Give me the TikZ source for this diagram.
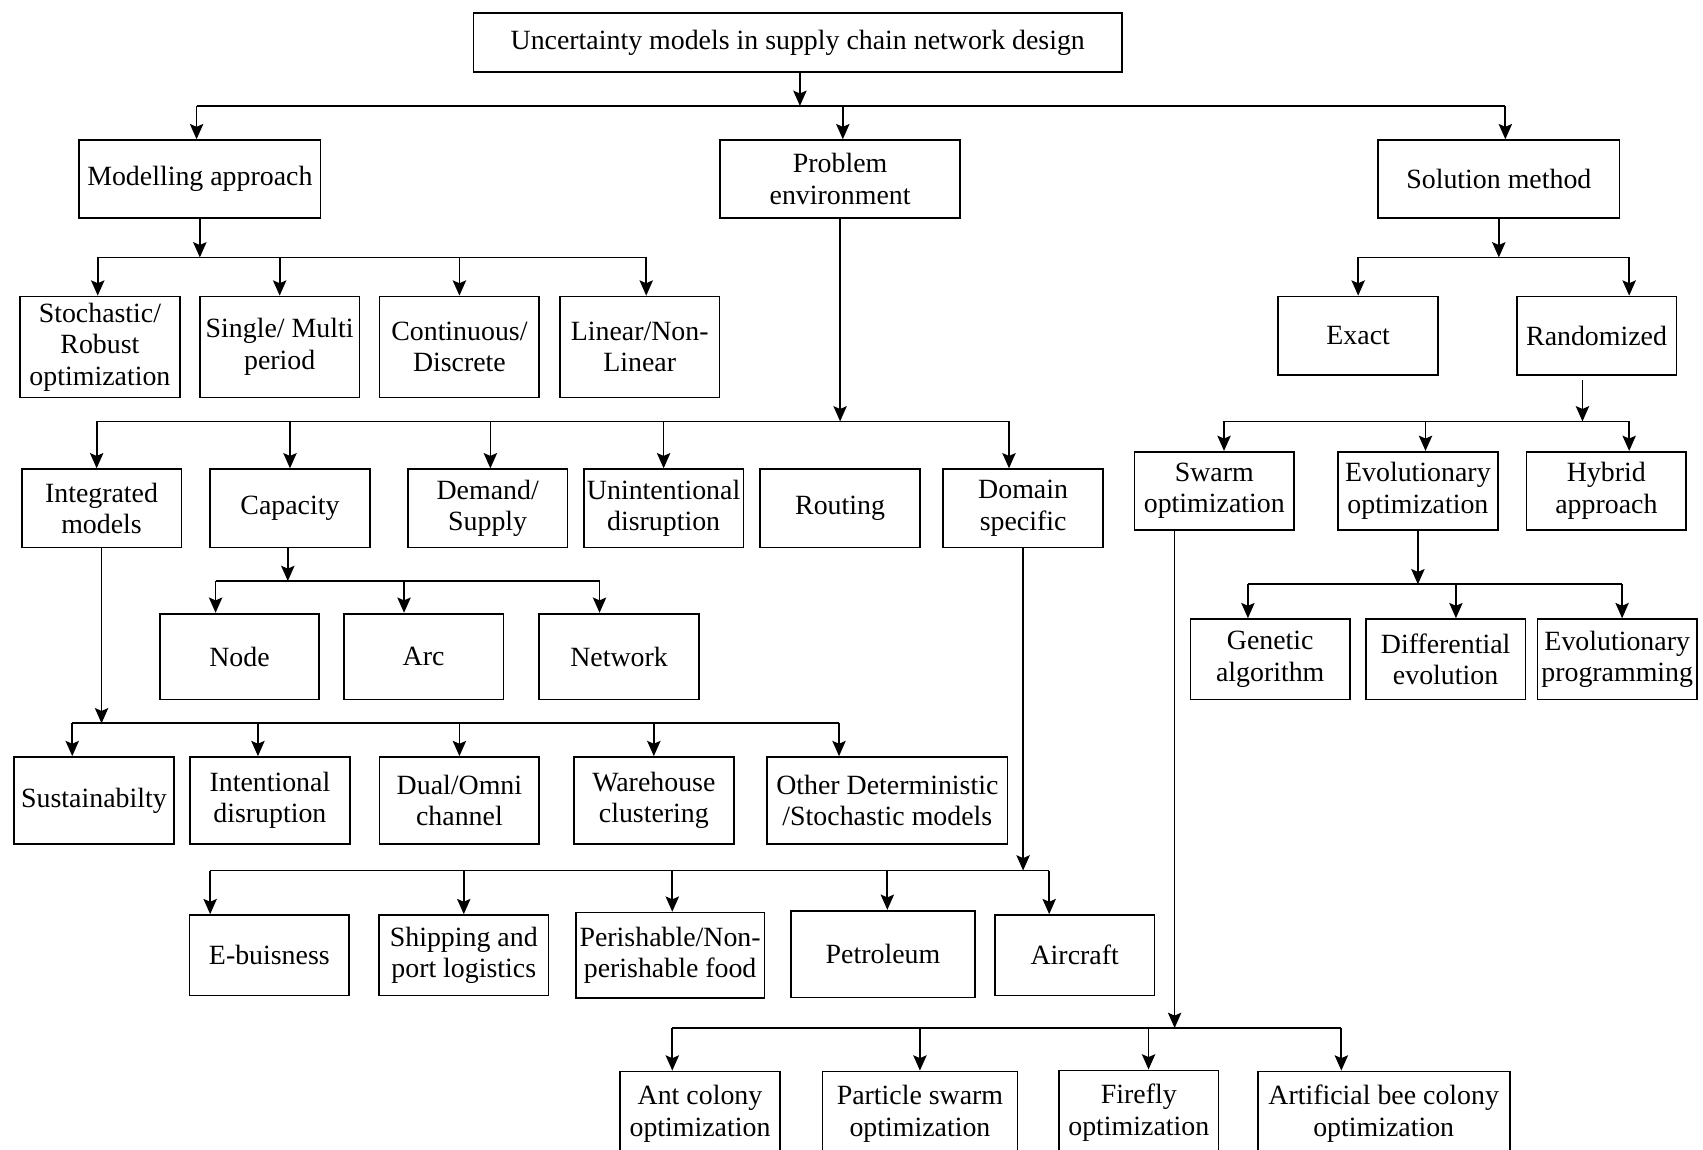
\documentclass[tikz,border=0pt]{standalone}
\usepackage{fontspec}
\setmainfont{Liberation Serif}
\usetikzlibrary{arrows.meta, positioning}

\begin{document}
\begin{tikzpicture}[
    % 方框
    box/.style={draw, line width=0.9pt, minimum width=2.94cm, minimum height=1.44cm, inner sep=1pt, align=center, font=\fontsize{14.6}{16.5}\selectfont},
    % 箭头与横线
    arr/.style={line width=0.9pt, -{Stealth[length=8pt, width=7pt, inset=1.5pt]}},
    bus/.style={line width=0.9pt}
]
\useasboundingbox (0,0) rectangle (31.36,-21.16);
\clip (0,0) rectangle (31.36,-21.16);

% 横线高度
\coordinate (b1) at (0,-1.95);
\coordinate (b2) at (0,-4.74);
\coordinate (b3) at (0,-7.76);
\coordinate (bcap) at (0,-10.70);
\coordinate (bev) at (0,-10.76);
\coordinate (bint) at (0,-13.32);
\coordinate (bdom) at (0,-16.03);
\coordinate (bsw) at (0,-18.93);

% 顶层
\node[box, minimum width=11.94cm, minimum height=1.08cm] (root) at (14.69,-0.78) {Uncertainty models in supply chain network design};
\node[box, minimum width=4.44cm] (model) at (3.68,-3.30) {Modelling approach};
\node[box, minimum width=4.42cm] (probl) at (15.47,-3.30) {Problem\\environment};
\node[box, minimum width=4.44cm] (solut) at (27.60,-3.30) {Solution method};

% 建模方法
\node[box, minimum height=1.86cm] (stoch) at (1.84,-6.39) {Stochastic/\\Robust\\optimization};
\node[box, minimum height=1.86cm] (single) at (5.15,-6.39) {Single/ Multi\\period};
\node[box, minimum height=1.86cm] (cont) at (8.46,-6.39) {Continuous/\\Discrete};
\node[box, minimum height=1.86cm] (linear) at (11.78,-6.39) {Linear/Non-\\Linear};

% 问题环境
\node[box] (integ) at (1.87,-9.36) {Integrated\\models};
\node[box] (capac) at (5.34,-9.36) {Capacity};
\node[box] (demand) at (8.98,-9.36) {Demand/\\Supply};
\node[box] (unint) at (12.22,-9.36) {Unintentional\\disruption};
\node[box] (routing) at (15.47,-9.36) {Routing};
\node[box] (domain) at (18.84,-9.36) {Domain\\specific};

\node[box, minimum height=1.58cm] (node) at (4.41,-12.09) {Node};
\node[box, minimum height=1.58cm] (arc) at (7.80,-12.09) {Arc};
\node[box, minimum height=1.58cm] (network) at (11.40,-12.09) {Network};

\node[box, minimum height=1.60cm] (sustain) at (1.73,-14.74) {Sustainabilty};
\node[box, minimum height=1.60cm] (intent) at (4.97,-14.74) {Intentional\\disruption};
\node[box, minimum height=1.60cm] (dual) at (8.46,-14.74) {Dual/Omni\\channel};
\node[box, minimum height=1.60cm] (wareh) at (12.04,-14.74) {Warehouse\\clustering};
\node[box, minimum height=1.60cm, minimum width=4.42cm] (other) at (16.34,-14.74) {Other Deterministic\\/Stochastic models};

\node[box, minimum height=1.48cm] (ebus) at (4.96,-17.59) {E-buisness};
\node[box, minimum height=1.48cm, minimum width=3.12cm] (ship) at (8.54,-17.59) {Shipping and\\port logistics};
\node[box, minimum height=1.57cm, minimum width=3.48cm] (peri) at (12.34,-17.59) {Perishable/Non-\\perishable food};
\node[box, minimum height=1.60cm, minimum width=3.38cm] (petro) at (16.26,-17.57) {Petroleum};
\node[box, minimum height=1.48cm] (aircr) at (19.79,-17.59) {Aircraft};

% 求解方法
\node[box] (exact) at (25.01,-6.18) {Exact};
\node[box] (rand) at (29.40,-6.18) {Randomized};

\node[box] (swarm) at (22.36,-9.04) {Swarm\\optimization};
\node[box] (evol) at (26.11,-9.04) {Evolutionary\\optimization};
\node[box] (hybrid) at (29.58,-9.04) {Hybrid\\approach};

\node[box, minimum height=1.48cm] (genetic) at (23.39,-12.14) {Genetic\\algorithm};
\node[box, minimum height=1.48cm] (diff) at (26.62,-12.14) {Differential\\evolution};
\node[box, minimum height=1.48cm] (evprog) at (29.78,-12.14) {Evolutionary\\programming};

\node[box, minimum height=1.56cm] (ant) at (12.89,-20.51) {Ant colony\\optimization};
\node[box, minimum height=1.56cm, minimum width=3.59cm] (pso) at (16.94,-20.51) {Particle swarm\\optimization};
\node[box, minimum height=1.56cm] (firefly) at (20.97,-20.49) {Firefly\\optimization};
\node[box, minimum height=1.56cm, minimum width=4.64cm] (abc) at (25.48,-20.51) {Artificial bee colony\\optimization};

% 连线
\draw[arr] ([xshift=0.04cm]root.south) -- ([xshift=0.04cm]root.south |- b1);
\draw[bus] ([xshift=-0.06cm]model.north |- b1) -- ([xshift=0.12cm]solut.north |- b1);
\foreach \n/\s in {model/-0.06, probl/0.05, solut/0.12}
    \draw[arr] ([xshift=\s cm]\n.north |- b1) -- ([xshift=\s cm]\n.north);

\draw[arr] (model.south) -- (model.south |- b2);
\draw[bus] ([xshift=-0.04cm]stoch.north |- b2) -- ([xshift=0.12cm]linear.north |- b2);
\foreach \n/\s in {stoch/-0.04, single/0, cont/0, linear/0.12}
    \draw[arr] ([xshift=\s cm]\n.north |- b2) -- ([xshift=\s cm]\n.north);

\draw[arr] (probl.south) -- (probl.south |- b3);
\draw[bus] ([xshift=-0.09cm]integ.north |- b3) -- ([xshift=-0.26cm]domain.north |- b3);
\foreach \n/\s in {integ/-0.09, capac/0, demand/0.05, unint/0, domain/-0.26}
    \draw[arr] ([xshift=\s cm]\n.north |- b3) -- ([xshift=\s cm]\n.north);

\draw[arr] ([xshift=-0.04cm]capac.south) -- ([xshift=-0.04cm]capac.south |- bcap);
\draw[bus] ([xshift=-0.44cm]node.north |- bcap) -- ([xshift=-0.36cm]network.north |- bcap);
\foreach \n/\s in {node/-0.44, arc/-0.36, network/-0.36}
    \draw[arr] ([xshift=\s cm]\n.north |- bcap) -- ([xshift=\s cm]\n.north);

\draw[arr] (integ.south) -- (integ.south |- bint);
\draw[bus] ([xshift=-0.40cm]sustain.north |- bint) -- ([xshift=-0.89cm]other.north |- bint);
\foreach \n/\s in {sustain/-0.40, intent/-0.22, dual/0, wareh/0, other/-0.89}
    \draw[arr] ([xshift=\s cm]\n.north |- bint) -- ([xshift=\s cm]\n.north);

\draw[arr] (domain.south) -- (domain.south |- bdom);
\draw[bus] ([xshift=-1.09cm]ebus.north |- bdom) -- ([xshift=-0.47cm]aircr.north |- bdom);
\foreach \n/\s in {ebus/-1.09, ship/0, peri/0.04, petro/0.08, aircr/-0.47}
    \draw[arr] ([xshift=\s cm]\n.north |- bdom) -- ([xshift=\s cm]\n.north);

\draw[arr] (solut.south) -- (solut.south |- b2);
\draw[bus] (exact.north |- b2) -- ([xshift=0.60cm]rand.north |- b2);
\foreach \n/\s in {exact/0, rand/0.60}
    \draw[arr] ([xshift=\s cm]\n.north |- b2) -- ([xshift=\s cm]\n.north);

\draw[arr] ([xshift=-0.26cm, yshift=-0.08cm]rand.south) -- ([xshift=-0.26cm]rand.south |- b3);
\draw[bus] ([xshift=0.18cm]swarm.north |- b3) -- ([xshift=0.42cm]hybrid.north |- b3);
\foreach \n/\s in {swarm/0.18, evol/0.14, hybrid/0.42}
    \draw[arr] ([xshift=\s cm]\n.north |- b3) -- ([xshift=\s cm]\n.north);

\draw[arr] (evol.south) -- (evol.south |- bev);
\draw[bus] ([xshift=-0.41cm]genetic.north |- bev) -- ([xshift=0.09cm]evprog.north |- bev);
\foreach \n/\s in {genetic/-0.41, diff/0.19, evprog/0.09}
    \draw[arr] ([xshift=\s cm]\n.north |- bev) -- ([xshift=\s cm]\n.north);

\draw[arr] ([xshift=-0.73cm]swarm.south) -- ([xshift=-0.73cm]swarm.south |- bsw);
\draw[bus] ([xshift=-0.51cm]ant.north |- bsw) -- ([xshift=-0.78cm]abc.north |- bsw);
\foreach \n/\s in {ant/-0.51, pso/0, firefly/0.18, abc/-0.78}
    \draw[arr] ([xshift=\s cm]\n.north |- bsw) -- ([xshift=\s cm]\n.north);

\end{tikzpicture}
\end{document}
